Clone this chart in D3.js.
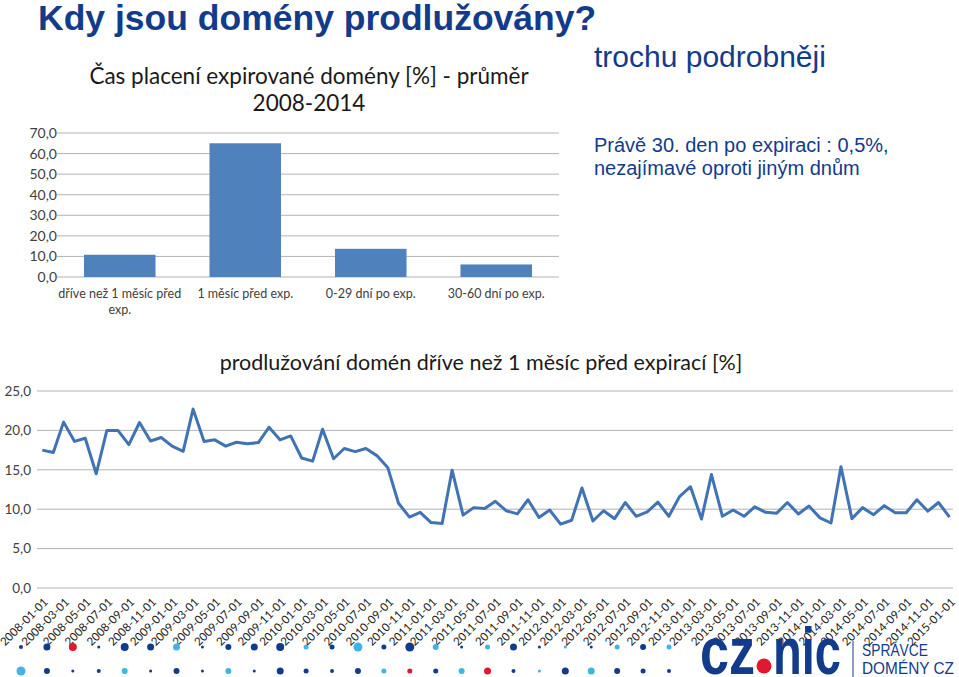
<!DOCTYPE html>
<html>
<head>
<meta charset="utf-8">
<script src="https://cdn.jsdelivr.net/npm/d3@7"></script>
<style>
  body { margin: 0; background: #fff; }
  svg { display: block; }
  .tick text { fill: #404040; }
</style>
</head>
<body>
<div id="chart"></div>
<script>
// bar chart: average payment time of expired domain
const barCategories = ["dříve než 1 měsíc před exp.", "1 měsíc před exp.", "0-29 dní po exp.", "30-60 dní po exp."];
const barValues = [10.8, 65.0, 13.7, 6.1];
const barTicks = [0, 10, 20, 30, 40, 50, 60, 70];

// line chart: renewals earlier than 1 month before expiry, monthly 2008-01 .. 2015-01
const lineValues = [
  17.5, 17.2, 21.05, 18.6, 19.0, 14.5, 20.0, 20.0, 18.2, 21.0, 18.65, 19.1,
  18.0, 17.35, 22.7, 18.6, 18.8, 18.0, 18.5, 18.3, 18.45, 20.4, 18.8, 19.3,
  16.5, 16.1, 20.15, 16.4, 17.7, 17.3, 17.7, 16.8, 15.25, 10.75, 9.0, 9.6,
  8.3, 8.2, 14.95, 9.25, 10.2, 10.1, 11.0, 9.8, 9.4, 11.2, 8.95, 9.9,
  8.1, 8.6, 12.7, 8.5, 9.8, 8.8, 10.85, 9.1, 9.65, 10.9, 9.1, 11.6,
  12.85, 8.75, 14.4, 9.1, 9.9, 9.1, 10.3, 9.6, 9.5, 10.85, 9.4, 10.4,
  8.9, 8.25, 15.4, 8.8, 10.2, 9.3, 10.45, 9.55, 9.55, 11.2, 9.75, 10.85,
  9.0
];
const lineTicks = [0, 5, 10, 15, 20, 25];
const lineTickLabels = [
  "2008-01-01", "2008-03-01", "2008-05-01", "2008-07-01", "2008-09-01", "2008-11-01",
  "2009-01-01", "2009-03-01", "2009-05-01", "2009-07-01", "2009-09-01", "2009-11-01",
  "2010-01-01", "2010-03-01", "2010-05-01", "2010-07-01", "2010-09-01", "2010-11-01",
  "2011-01-01", "2011-03-01", "2011-05-01", "2011-07-01", "2011-09-01", "2011-11-01",
  "2012-01-01", "2012-03-01", "2012-05-01", "2012-07-01", "2012-09-01", "2012-11-01",
  "2013-01-01", "2013-03-01", "2013-05-01", "2013-07-01", "2013-09-01", "2013-11-01",
  "2014-01-01", "2014-03-01", "2014-05-01", "2014-07-01", "2014-09-01", "2014-11-01",
  "2015-01-01"
];

// decorative dot rows under the chart (colour code, radius)
const dotRow1 = [
  ["d", 2], ["d", 3.5], ["r", 4], ["d", 1.5], ["d", 4], ["d", 3.5], ["l", 3.5], ["d", 1.5], ["d", 3],
  ["d", 3.5], ["d", 4], ["l", 2.5], ["d", 2.5], ["l", 4.5], ["d", 2.5], ["d", 4.5], ["l", 3], ["d", 1.5],
  ["l", 2.5], ["d", 3.5], ["d", 1.5], ["l", 1.5], ["d", 1.5], ["l", 2.5], ["d", 3], ["l", 2.5]
];
const dotRow2 = [
  ["l", 4.5], ["d", 3], ["d", 1.5], ["d", 2], ["l", 3], ["d", 1.5], ["d", 3], ["d", 1.5], ["l", 3],
  ["d", 1.5], ["d", 3.5], ["d", 2.5], ["d", 2], ["d", 3], ["l", 2.5], ["r", 2.5], ["d", 2.5], ["l", 3],
  ["r", 3.5], ["d", 2], ["l", 1.5], ["d", 3.5], ["l", 3.5], ["d", 3], ["d", 2.5], ["d", 2]
];

const dark = "#123b8b", light = "#41b4e4", red = "#e2192e";
const dotColor = {d: dark, l: light, r: red};
const calibri = "Lato, 'Open Sans', sans-serif";
const arial = "'Liberation Sans', Arial, sans-serif";

const width = 959, height = 677;
const svg = d3.select("#chart").append("svg")
    .attr("width", width)
    .attr("height", height);

// ---- headings
svg.append("text")
    .attr("x", 38).attr("y", 30)
    .style("font-family", arial).style("font-weight", "bold").style("font-size", "35.5px")
    .style("fill", dark)
    .text("Kdy jsou domény prodlužovány?");

svg.append("text")
    .attr("x", 594).attr("y", 67)
    .style("font-family", arial).style("font-size", "30px")
    .style("fill", dark)
    .text("trochu podrobněji");

const note = svg.append("text")
    .style("font-family", arial).style("font-size", "20px")
    .style("fill", dark);
note.append("tspan").attr("x", 594).attr("y", 152).text("Právě 30. den po expiraci : 0,5%,");
note.append("tspan").attr("x", 594).attr("y", 175).text("nezajímavé oproti jiným dnům");

// ---- bar chart
const barBox = {left: 57, right: 559, top: 133, bottom: 277};

const by = d3.scaleLinear()
    .domain([0, 70])
    .range([barBox.bottom, barBox.top]);

const bx = d3.scaleBand()
    .domain(barCategories)
    .range([barBox.left, barBox.right])
    .paddingInner(0.43)
    .paddingOuter(0.215);

const bar = svg.append("g").classed("bar-chart", true);

bar.append("text")
    .attr("text-anchor", "middle")
    .style("font-family", calibri).style("font-size", "22.5px").style("fill", "#1a1a1a")
    .selectAll("tspan")
    .data(["Čas placení expirované domény [%] - průměr", "2008-2014"])
    .enter().append("tspan")
        .attr("x", 309)
        .attr("y", (d, i) => 84 + i * 27)
        .text(d => d);

bar.append("g")
    .classed("grid", true)
    .selectAll("line")
    .data(barTicks)
    .enter().append("line")
        .attr("x1", barBox.left).attr("x2", barBox.right)
        .attr("y1", d => by(d)).attr("y2", d => by(d))
        .style("stroke", "#b3b3b3").style("stroke-width", 1);

const barAxis = bar.append("g")
    .classed("y axis", true)
    .attr("transform", `translate(${barBox.left},0)`)
    .call(d3.axisLeft(by).tickValues(barTicks).tickSize(0).tickPadding(0)
        .tickFormat(d => d3.format(".1f")(d).replace(".", ",")));
barAxis.select(".domain").remove();
barAxis.selectAll("text").style("font-family", calibri).style("font-size", "14px");

bar.append("g").selectAll("rect")
    .data(barValues)
    .enter().append("rect")
        .attr("x", (d, i) => bx(barCategories[i]))
        .attr("width", bx.bandwidth())
        .attr("y", d => by(d))
        .attr("height", d => by(0) - by(d))
        .style("fill", "#4f81bd");

const catLabels = bar.append("g").selectAll("text")
    .data(barCategories)
    .enter().append("text")
        .attr("text-anchor", "middle")
        .style("font-family", calibri).style("font-size", "12.5px").style("fill", "#404040")
        .attr("y", 298);

// wrap the category labels into the band width
catLabels.each(function(d) {
    const t = d3.select(this);
    const cx = bx(d) + bx.bandwidth() / 2;
    const words = d.split(" ");
    let line = [];
    let tspan = t.append("tspan").attr("x", cx).attr("dy", 0);
    words.forEach(w => {
        line.push(w);
        tspan.text(line.join(" "));
        if (tspan.node().getComputedTextLength() > 132 && line.length > 1) {
            line.pop();
            tspan.text(line.join(" "));
            line = [w];
            tspan = t.append("tspan").attr("x", cx).attr("dy", "1.3em").text(w);
        }
    });
});

// ---- line chart
const lineBox = {left: 37, right: 953, top: 391, bottom: 588};
const months = d3.timeMonth.range(new Date(2008, 0, 1), new Date(2015, 1, 1));

const lx = d3.scaleTime()
    .domain([months[0], months[months.length - 1]])
    .range([42.3, 949.5]);

const ly = d3.scaleLinear()
    .domain([0, 25])
    .range([lineBox.bottom, lineBox.top]);

const chart = svg.append("g").classed("line-chart", true);

chart.append("text")
    .attr("x", 481).attr("y", 370)
    .attr("text-anchor", "middle")
    .style("font-family", calibri).style("font-size", "21.5px").style("fill", "#1a1a1a")
    .text("prodlužování domén dříve než 1 měsíc před expirací [%]");

chart.append("g")
    .classed("grid", true)
    .selectAll("line")
    .data(lineTicks)
    .enter().append("line")
        .attr("x1", lineBox.left).attr("x2", lineBox.right)
        .attr("y1", d => ly(d)).attr("y2", d => ly(d))
        .style("stroke", "#b3b3b3").style("stroke-width", 1);

const lyAxis = chart.append("g")
    .classed("y axis", true)
    .attr("transform", `translate(${lineBox.left - 6},0)`)
    .call(d3.axisLeft(ly).tickValues(lineTicks).tickSize(0).tickPadding(0)
        .tickFormat(d => d3.format(".1f")(d).replace(".", ",")));
lyAxis.select(".domain").remove();
lyAxis.selectAll("text").style("font-family", calibri).style("font-size", "13.5px");

const parse = d3.timeParse("%Y-%m-%d");
const lxAxis = chart.append("g")
    .classed("x axis", true)
    .attr("transform", `translate(0,${lineBox.bottom + 12})`)
    .call(d3.axisBottom(lx).tickValues(lineTickLabels.map(parse)).tickSize(0).tickPadding(0)
        .tickFormat(d3.timeFormat("%Y-%m-%d")));
lxAxis.select(".domain").remove();
lxAxis.selectAll("text")
    .style("font-family", calibri).style("font-size", "11.5px").style("fill", "#1a1a1a")
    .attr("text-anchor", "end")
    .attr("dy", "0.35em")
    .attr("transform", "translate(3,0) rotate(-45)");

chart.append("path")
    .datum(lineValues)
    .attr("d", d3.line().x((d, i) => lx(months[i])).y(d => ly(d)))
    .style("fill", "none")
    .style("stroke", "#4073b4")
    .style("stroke-width", 3)
    .style("stroke-linejoin", "round");

// ---- decorative footer
const dx = d3.scalePoint()
    .domain(d3.range(dotRow1.length))
    .range([21, 669]);

[[dotRow1, 647], [dotRow2, 671]].forEach(([row, y]) => {
    svg.append("g").selectAll("circle")
        .data(row)
        .enter().append("circle")
            .attr("cx", (d, i) => dx(i))
            .attr("cy", y)
            .attr("r", d => d[1])
            .style("fill", d => dotColor[d[0]]);
});

const logo = svg.append("g").classed("logo", true);
logo.append("text")
    .attr("x", 700).attr("y", 674)
    .attr("textLength", 55).attr("lengthAdjust", "spacingAndGlyphs")
    .style("font-family", arial).style("font-weight", "bold").style("font-size", "66px")
    .style("fill", dark)
    .text("cz");
logo.append("circle")
    .attr("cx", 764).attr("cy", 666).attr("r", 7.5)
    .style("fill", red);
logo.append("text")
    .attr("x", 773).attr("y", 674)
    .attr("textLength", 68).attr("lengthAdjust", "spacingAndGlyphs")
    .style("font-family", arial).style("font-weight", "bold").style("font-size", "66px")
    .style("fill", dark)
    .text("nic");
logo.append("line")
    .attr("x1", 853).attr("x2", 853).attr("y1", 641).attr("y2", 677)
    .style("stroke", dark).style("stroke-width", 1);
logo.append("text")
    .style("font-family", arial).style("font-size", "17px").style("fill", dark)
    .selectAll("tspan")
    .data([["SPRÁVCE", 66], ["DOMÉNY CZ", 92]])
    .enter().append("tspan")
        .attr("x", 862)
        .attr("y", (d, i) => 656 + i * 18)
        .attr("textLength", d => d[1])
        .attr("lengthAdjust", "spacingAndGlyphs")
        .text(d => d[0]);
</script>
</body>
</html>
